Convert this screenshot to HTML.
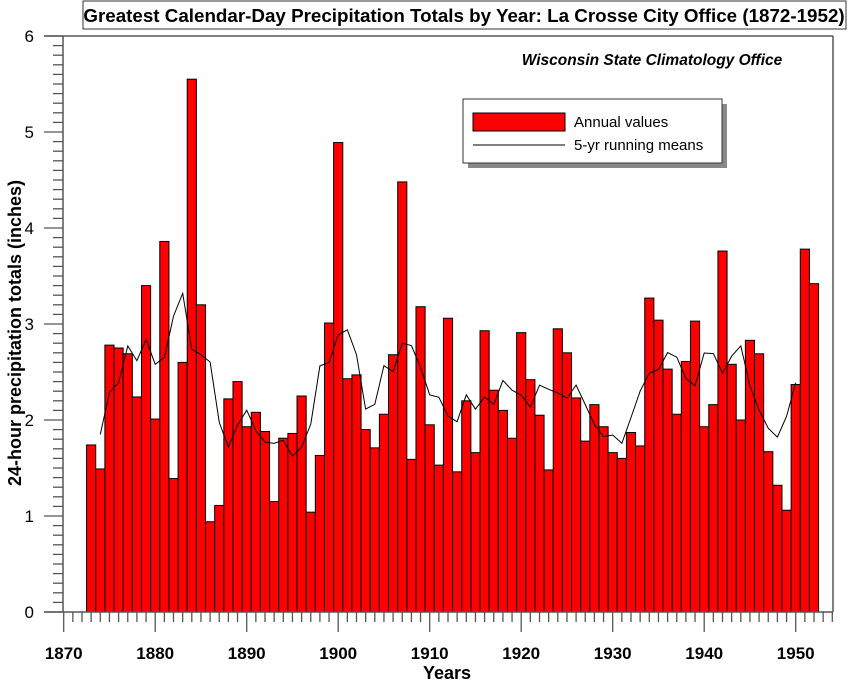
<!DOCTYPE html>
<html><head><meta charset="utf-8"><style>
body{margin:0;background:#fff;}
svg{display:block;font-family:"Liberation Sans",Arial,sans-serif;}
</style></head><body>
<svg id="s" width="850" height="683" xmlns="http://www.w3.org/2000/svg">
<rect x="83" y="1" width="763" height="28" fill="#fff" stroke="#333" stroke-width="1"/>
<text x="464" y="22" text-anchor="middle" font-size="18.8" font-weight="bold">Greatest Calendar-Day Precipitation Totals by Year: La Crosse City Office (1872-1952)</text>
<g id="bars"></g>
<polyline id="rm" fill="none" stroke="#000" stroke-width="1"/>
<line x1="44" y1="36" x2="833" y2="36" stroke="#555" stroke-width="1.5"/>
<line x1="833" y1="36" x2="833" y2="612" stroke="#555" stroke-width="1.5"/>
<line x1="63" y1="36" x2="63" y2="612" stroke="#555" stroke-width="1.5"/>
<line x1="44" y1="612" x2="833" y2="612" stroke="#555" stroke-width="1.5"/>
<g id="ticks" stroke="#555" stroke-width="1.3"></g>
<g id="labels" font-size="17"></g>
<text x="652" y="65" text-anchor="middle" font-size="15.5" font-weight="bold" font-style="italic">Wisconsin State Climatology Office</text>
<rect x="468" y="104" width="259" height="64" fill="#888"/>
<rect x="463" y="99" width="259" height="64" fill="#fff" stroke="#333"/>
<rect x="473" y="113" width="92" height="18" fill="#f00" stroke="#000"/>
<text x="574" y="127" font-size="15">Annual values</text>
<line x1="473" y1="145" x2="565" y2="145" stroke="#555" stroke-width="1.5"/>
<text x="574" y="150" font-size="15">5-yr running means</text>
<text x="447" y="679" text-anchor="middle" font-size="18" font-weight="bold">Years</text>
<text transform="translate(21,333) rotate(-90)" text-anchor="middle" font-size="18" font-weight="bold">24-hour precipitation totals (inches)</text>
</svg>
<script>
var v=[1.74,1.49,2.78,2.75,2.69,2.24,3.40,2.01,3.86,1.39,2.60,5.55,3.20,0.94,1.11,2.22,2.40,1.93,2.08,1.88,1.15,1.81,1.86,2.25,1.04,1.63,3.01,4.89,2.43,2.47,1.90,1.71,2.06,2.68,4.48,1.59,3.18,1.95,1.53,3.06,1.46,2.20,1.66,2.93,2.31,2.10,1.81,2.91,2.42,2.05,1.48,2.95,2.70,2.23,1.78,2.16,1.93,1.66,1.60,1.87,1.73,3.27,3.04,2.53,2.06,2.61,3.03,1.93,2.16,3.76,2.58,2.00,2.83,2.69,1.67,1.32,1.06,2.37,3.78,3.42];
var NS="http://www.w3.org/2000/svg";
function X(y){return 63.7+(y-1870)*9.15;}
function Y(v){return 612-v*96;}
function el(t,a,p){var e=document.createElementNS(NS,t);for(var k in a)e.setAttribute(k,a[k]);document.getElementById(p).appendChild(e);return e;}
v.forEach(function(d,i){var yr=1873+i;el('rect',{x:X(yr)-4.575,y:Y(d),width:9.15,height:d*96,fill:'#f00',stroke:'#000','stroke-width':1},'bars');});
var pts=[];
for(var i=1;i<v.length-2;i++){var a=Math.max(0,i-2),b=Math.min(v.length-1,i+2),s=0;for(var j=a;j<=b;j++)s+=v[j];var m=s/(b-a+1);if(i==1)m=1.85;pts.push(X(1873+i).toFixed(1)+','+Y(m).toFixed(1));}
document.getElementById('rm').setAttribute('points',pts.join(' '));
for(var y=1870;y<=1954;y++){var maj=y%10==0;el('line',{x1:X(y),x2:X(y),y1:612,y2:maj?632:622},'ticks');
 if(maj){var t=el('text',{x:X(y),y:659,'text-anchor':'middle','font-weight':'bold'},'labels');t.textContent=y;}}
for(var k=0;k<=60;k++){var yy=612-k*9.6;var maj=k%10==0;el('line',{x1:maj?44:53,x2:63,y1:yy,y2:yy},'ticks');
 if(maj){var t=el('text',{x:34,y:yy+6,'text-anchor':'end','font-size':'17'},'labels');t.textContent=k/10;}}
</script>
</body></html>
